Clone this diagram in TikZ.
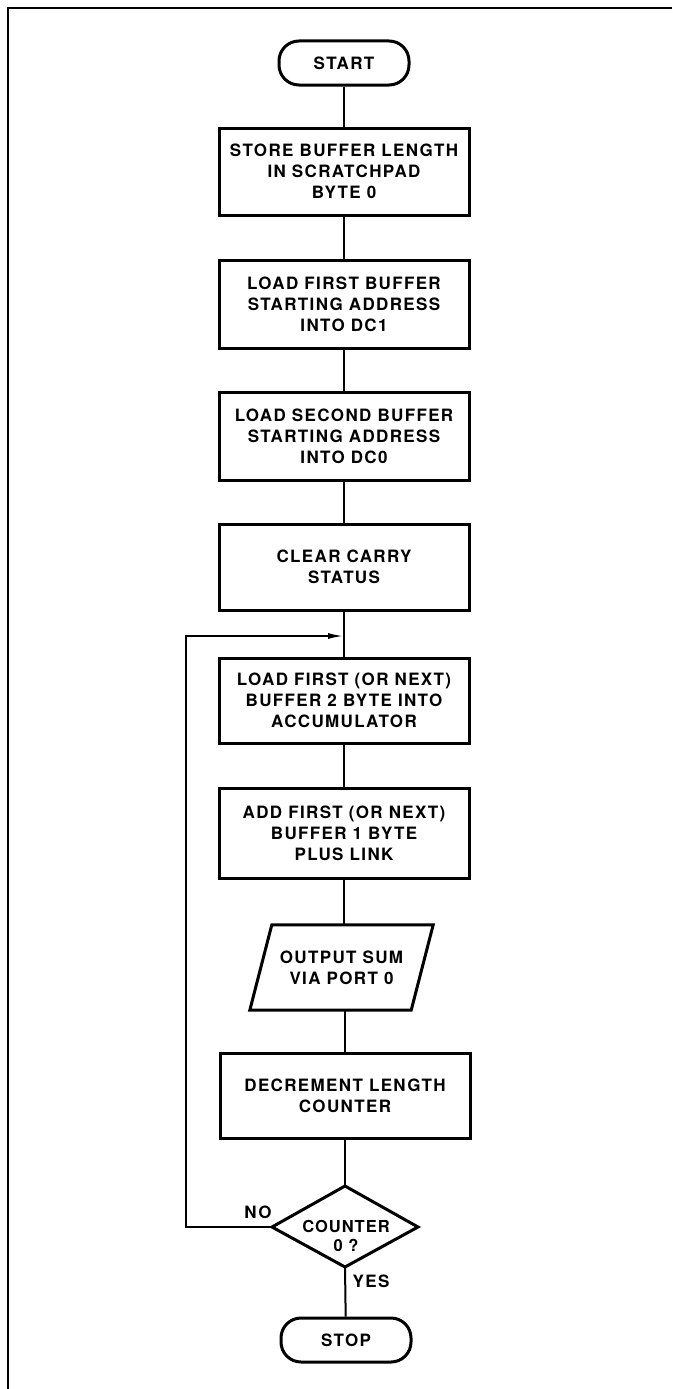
\documentclass[tikz,border=0pt]{standalone}
\usepackage{fontspec}
\setmainfont{TeX Gyre Heros}
\usetikzlibrary{calc,arrows.meta}
\begin{document}
\begin{tikzpicture}[x=1pt,y=-1pt,
  lbl/.style={font=\fontsize{17}{21}\selectfont\bfseries\addfontfeature{LetterSpace=8}, align=center},
  procbox/.style={draw, line width=3pt, minimum width=250, inner sep=0, lbl},
  termbox/.style={draw, line width=3pt, rounded corners=20, minimum width=130, minimum height=44, inner sep=0, lbl},
  shapeline/.style={line width=3pt, line join=miter},
  conn/.style={line width=2pt},
  loopArrow/.style={conn, -{Latex[length=16pt,width=6pt]}},
]
\useasboundingbox (0,0) rectangle (672,1389);
% frame
\draw[line width=1.6pt] (672,8) -- (8,8) -- (8,1389);

\node[termbox] (start) at (344,63) {START};
\node[procbox, minimum height=87] (b1) at (344,171.5) {STORE BUFFER LENGTH\\IN SCRATCHPAD\\BYTE 0};
\node[procbox, minimum height=88] (b2) at (344,304) {LOAD FIRST BUFFER\\STARTING ADDRESS\\INTO DC1};
\node[procbox, minimum height=88] (b3) at (344,436) {LOAD SECOND BUFFER\\STARTING ADDRESS\\INTO DC0};
\node[procbox, minimum height=86] (b4) at (344,567) {CLEAR CARRY\\STATUS};
\node[procbox, minimum height=85] (b5) at (344,700.5) {LOAD FIRST (OR NEXT)\\BUFFER 2 BYTE INTO\\ACCUMULATOR};
\node[procbox, minimum height=90] (b6) at (344,833) {ADD FIRST (OR NEXT)\\BUFFER 1 BYTE\\PLUS LINK};
\node[lbl, minimum width=161, minimum height=85, inner sep=0] (out) at (341.5,967.5) {OUTPUT SUM\\VIA PORT 0};
\draw[shapeline] ($(out.north west)+(11,0)$) -- ($(out.north east)+(11,0)$)
  -- ($(out.south east)+(-11,0)$) -- ($(out.south west)+(-11,0)$) -- cycle;
\node[procbox, minimum height=85] (b7) at (345,1095.5) {DECREMENT LENGTH\\COUNTER};

% decision
\node[lbl, inner sep=0, font=\fontsize{16.5}{19}\selectfont\bfseries\addfontfeature{LetterSpace=6}] (dec) at (346,1236) {COUNTER\\0 ?};
\coordinate (dt) at (345,1186);
\coordinate (dl) at (272,1227);
\coordinate (dr) at (418,1227);
\coordinate (db) at (345,1267);
\draw[shapeline] (dt) -- (dr) -- (db) -- (dl) -- cycle;

\node[termbox] (stop) at (346,1340) {STOP};

% connectors
\draw[conn] (start) -- (b1);
\draw[conn] (b1) -- (b2);
\draw[conn] (b2) -- (b3);
\draw[conn] (b3) -- (b4);
\draw[conn] (b4) -- (b5);
\draw[conn] (b5) -- (b6);
\draw[conn] (b6.south -| 344,0) -- (out.north -| 344,0);
\draw[conn] (out.south -| 345,0) -- (b7);
\draw[conn] (b7) -- (dt);
\draw[conn] (db) -- (stop);

\coordinate (loopc) at (186,636);
\coordinate (join) at (344,636);
\draw[loopArrow] (dl) -| (loopc) -- (join);

\node[lbl] (no) at (258,1212) {NO};
\node[lbl] (yes) at (371,1281) {YES};
\end{tikzpicture}
\end{document}
